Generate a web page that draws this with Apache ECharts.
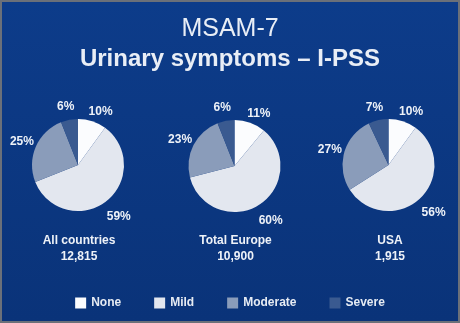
<!DOCTYPE html>
<html>
<head>
<meta charset="utf-8">
<script src="https://cdn.jsdelivr.net/npm/echarts@6/dist/echarts.min.js"></script>
<style>
  html, body { margin: 0; padding: 0; background: #6b7079; }
  #wrap { width: 460px; height: 323px; box-sizing: border-box; border: 2px solid #6b7079; }
  #chart { width: 456px; height: 319px; }
</style>
</head>
<body>
<div id="wrap"><div id="chart"></div></div>
<script>
// ---- data ----
const categories = ['None', 'Mild', 'Moderate', 'Severe'];
const regionNames = ['All countries', 'Total Europe', 'USA'];
const regionCounts = ['12,815', '10,900', '1,915'];
const allCountries = [10, 59, 25, 6];
const totalEurope = [11, 60, 23, 6];
const usa = [10, 56, 27, 7];
const seriesValues = [allCountries, totalEurope, usa];

// ---- styles ----
const colors = ['#fbfcfe', '#e3e7ef', '#8a9cba', '#3a5a90'];
const pieCenters = [[76, 163], [232.5, 164], [386.5, 163]];
const pieRadius = 46;
const nameCenters = [77, 233.5, 388];
const FONT = '"Liberation Sans", Arial, sans-serif';

const chart = echarts.init(document.getElementById('chart'));

const series = seriesValues.map((vals, i) => ({
  type: 'pie',
  center: pieCenters[i],
  radius: pieRadius,
  startAngle: 90,
  clockwise: true,
  silent: true,
  animation: false,
  avoidLabelOverlap: false,
  data: vals.map((v, k) => ({ name: categories[k], value: v, itemStyle: { color: colors[k] } })),
  itemStyle: { borderWidth: 0 },
  label: {
    show: true,
    position: 'outside',
    formatter: '{c}%',
    color: '#eef2f8',
    fontFamily: FONT,
    fontWeight: 'bold',
    fontSize: 12,
    distanceToLabelLine: 0
  },
  labelLine: { show: false, length: 14, length2: 0 },
  labelLayout: function (p) {
    const right = p.align === 'left';
    return { align: 'center', verticalAlign: 'middle', dx: right ? 4 : -1, dy: right ? 4 : 1 };
  }
}));

const titles = [
  {
    text: 'MSAM-7',
    left: 'center',
    top: 10,
    textStyle: { color: '#e9eef6', fontFamily: FONT, fontWeight: 'normal', fontSize: 25 }
  },
  {
    text: 'Urinary symptoms \u2013 I-PSS',
    left: 'center',
    top: 40,
    textStyle: { color: '#e9eef6', fontFamily: FONT, fontWeight: 'bold', fontSize: 24 }
  }
].concat(regionNames.map((n, i) => ({
  text: n + '\n' + regionCounts[i],
  left: nameCenters[i],
  textAlign: 'center',
  top: 231,
  padding: 0,
  textStyle: { color: '#eef2f8', fontFamily: FONT, fontWeight: 'bold', fontSize: 12, lineHeight: 16 }
})));

chart.setOption({
  backgroundColor: {
    type: 'linear', x: 0, y: 0, x2: 0, y2: 1,
    colorStops: [{ offset: 0, color: '#0d3c8a' }, { offset: 1, color: '#0a3379' }]
  },
  animation: false,
  title: titles,
  legend: {
    data: categories,
    left: 'center',
    top: 290,
    icon: 'rect',
    itemWidth: 11,
    itemHeight: 11,
    itemGap: 33,
    selectedMode: false,
    textStyle: { color: '#e6ebf3', fontFamily: FONT, fontWeight: 'bold', fontSize: 12 }
  },
  series: series
});
</script>
</body>
</html>
